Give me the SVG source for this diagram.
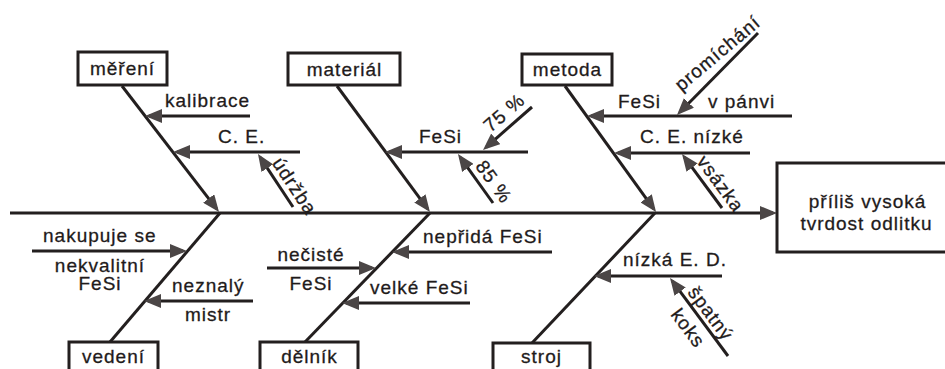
<svg xmlns="http://www.w3.org/2000/svg" width="945" height="369" viewBox="0 0 945 369">
  <style>
    .ln { stroke: #231f1f; stroke-width: 3; fill: none; }
    .arr { marker-end: url(#ah); }
    .box { fill: #ffffff; stroke: #231f1f; stroke-width: 3; }
    text { font-family: "Liberation Sans", Arial, Helvetica, sans-serif; font-size: 19px; letter-spacing: 1px; fill: #1f1b1b; stroke: #1f1b1b; stroke-width: 0.3; }
    .c { text-anchor: middle; }
  </style>
  <defs>
    <marker id="ah" markerUnits="userSpaceOnUse" markerWidth="18" markerHeight="14" viewBox="0 0 18 14" refX="13" refY="7" orient="auto">
      <path d="M0,0 L17,7 L0,14 z" fill="#4b4646"/>
    </marker>
  </defs>
  <rect width="945" height="369" fill="#ffffff"/>

  <!-- connectors: spine, main bones and cause arrows -->
  <g id="connectors">
    <line class="ln arr" x1="10" y1="213" x2="773" y2="213"/>
    <!-- upper bones -->
    <line class="ln arr" x1="122" y1="86" x2="216.6" y2="208.8"/>
    <line class="ln arr" x1="337" y1="86" x2="427.6" y2="208.8"/>
    <line class="ln arr" x1="565" y1="86" x2="653.7" y2="208.8"/>
    <!-- lower bones -->
    <line class="ln" x1="110" y1="342" x2="220" y2="213"/>
    <line class="ln" x1="305" y1="342" x2="430" y2="213"/>
    <line class="ln" x1="532" y1="343" x2="655" y2="213"/>
    <!-- měření causes -->
    <line class="ln arr" x1="250" y1="116" x2="149" y2="116"/>
    <line class="ln arr" x1="300" y1="152" x2="177" y2="152"/>
    <line class="ln arr" x1="293" y1="207" x2="260.2" y2="157.3"/>
    <!-- materiál causes -->
    <line class="ln arr" x1="528" y1="152" x2="389" y2="152"/>
    <line class="ln arr" x1="532" y1="107" x2="486" y2="147.4"/>
    <line class="ln arr" x1="493" y1="203" x2="460.3" y2="157.3"/>
    <!-- metoda causes -->
    <line class="ln arr" x1="792" y1="116" x2="591" y2="116"/>
    <line class="ln arr" x1="758" y1="33" x2="679.8" y2="112.2"/>
    <line class="ln arr" x1="750" y1="153" x2="618" y2="153"/>
    <line class="ln arr" x1="722" y1="208" x2="684.4" y2="157.2"/>
    <!-- vedení causes -->
    <line class="ln arr" x1="32" y1="251" x2="183" y2="251"/>
    <line class="ln arr" x1="253" y1="301" x2="148" y2="301"/>
    <!-- dělník causes -->
    <line class="ln arr" x1="552" y1="252" x2="396" y2="252"/>
    <line class="ln arr" x1="267" y1="268" x2="372" y2="268"/>
    <line class="ln arr" x1="470" y1="303" x2="346" y2="303"/>
    <!-- stroj causes -->
    <line class="ln arr" x1="722" y1="276" x2="598" y2="276"/>
    <line class="ln arr" x1="728" y1="356" x2="672.4" y2="281.2"/>
  </g>

  <!-- cause labels -->
  <g id="labels">
    <text x="165" y="107">kalibrace</text>
    <text x="218" y="143">C. E.</text>
    <text transform="translate(271.5,163) rotate(56.6)">údržba</text>
    <text x="419" y="143">FeSi</text>
    <text transform="translate(490.5,133) rotate(-41)">75 %</text>
    <text transform="translate(474.8,166.2) rotate(54.5)">85 %</text>
    <text x="618" y="108">FeSi</text>
    <text x="708" y="108">v pánvi</text>
    <text transform="translate(681.4,92) rotate(-40)">promíchání</text>
    <text x="640" y="143">C. E. nízké</text>
    <text transform="translate(696,161.5) rotate(53.5)">vsázka</text>
    <text x="43" y="242">nakupuje se</text>
    <text class="c" x="100" y="272">nekvalitní</text>
    <text class="c" x="100" y="290">FeSi</text>
    <text x="172" y="292">neznalý</text>
    <text class="c" x="208" y="321">mistr</text>
    <text x="423" y="243">nepřidá FeSi</text>
    <text class="c" x="311" y="261">nečisté</text>
    <text class="c" x="311" y="290">FeSi</text>
    <text x="370" y="294">velké FeSi</text>
    <text x="623" y="266">nízká E. D.</text>
    <text transform="translate(687,292.5) rotate(53.3)">špatný</text>
    <text transform="translate(670,314.7) rotate(53.3)">koks</text>
  </g>

  <!-- category nodes -->
  <g id="mereni">
    <rect class="box" x="78" y="52" width="89" height="33"/>
    <text class="c" x="122.5" y="75">měření</text>
  </g>
  <g id="material">
    <rect class="box" x="288" y="53" width="112" height="32"/>
    <text class="c" x="344.5" y="76">materiál</text>
  </g>
  <g id="metoda">
    <rect class="box" x="522" y="54" width="90" height="31"/>
    <text class="c" x="567.5" y="76">metoda</text>
  </g>
  <g id="vedeni">
    <rect class="box" x="69" y="342" width="89" height="40"/>
    <text class="c" x="113.5" y="363">vedení</text>
  </g>
  <g id="delnik">
    <rect class="box" x="260" y="342" width="98" height="40"/>
    <text class="c" x="309.5" y="363">dělník</text>
  </g>
  <g id="stroj">
    <rect class="box" x="493" y="343" width="97" height="40"/>
    <text class="c" x="541.5" y="363">stroj</text>
  </g>

  <!-- effect node -->
  <g id="effect">
    <rect class="box" x="777" y="163" width="180" height="89"/>
    <text class="c" x="867.5" y="208">příliš vysoká</text>
    <text class="c" x="866.5" y="230">tvrdost odlitku</text>
  </g>
</svg>
